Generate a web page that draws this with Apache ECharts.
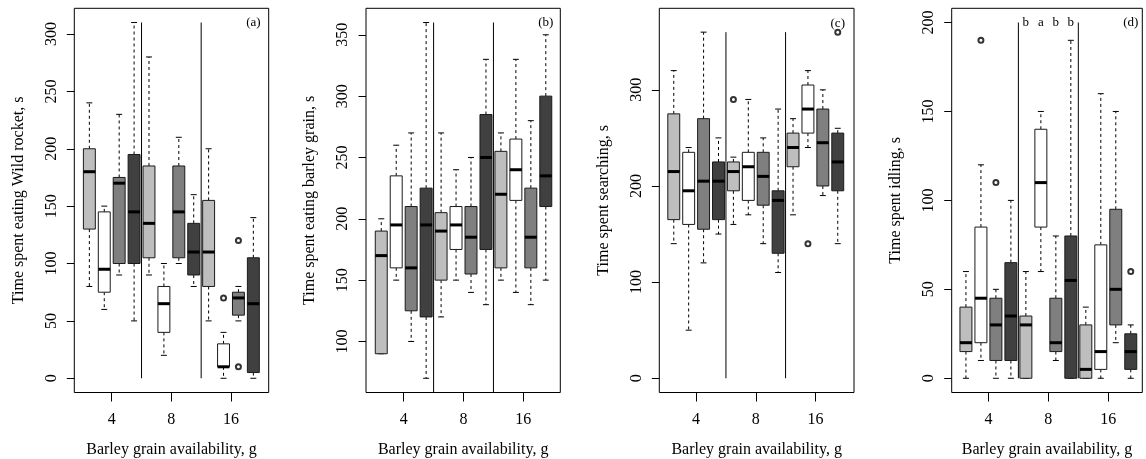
<!DOCTYPE html>
<html><head><meta charset="utf-8">
<script src="https://cdn.jsdelivr.net/npm/echarts@6/dist/echarts.min.js"></script>
<style>html,body{margin:0;padding:0;background:#fff}#c{width:1146px;height:459px}</style>
</head><body><div id="c"></div>
<script>
// ---------- data ----------
const groupLabels = ['4', '8', '16'];
const groupTickPos = [2.5, 6.5, 10.5];
const separators = [4.5, 8.5];
// box statistics per box (12 boxes, 4 per group): [min, q1, median, q3, max]
const rocketStats = [
  [80,130,180,200,240],[60,75,95,145,150],[90,100,170,175,230],[50,100,145,195,310],
  [90,105,135,185,280],[20,40,65,80,100],[100,105,145,185,210],[80,90,110,135,160],
  [50,80,110,155,200],[0,10,10,30,40],[50,55,70,75,80],[0,5,65,105,140]
];
const rocketOutliers = [[10,70],[11,120],[11,10]];
const rocketTicks = [0,50,100,150,200,250,300];

const barleyStats = [
  [90,90,170,190,200],[150,160,195,235,260],[100,125,160,210,270],[70,120,195,225,360],
  [120,150,190,205,270],[150,175,195,210,240],[140,155,185,210,250],[130,175,250,285,330],
  [150,160,220,255,270],[140,215,240,265,330],[130,160,185,225,280],[150,210,235,300,350]
];
const barleyOutliers = [];
const barleyTicks = [100,150,200,250,300,350];

const searchStats = [
  [140,165,215,275,320],[50,160,195,235,240],[120,155,205,270,360],[150,165,205,225,250],
  [160,195,215,225,230],[170,185,220,235,290],[140,180,210,235,250],[110,130,185,195,280],
  [170,220,240,255,270],[240,255,280,305,320],[190,200,245,280,300],[140,195,225,255,260]
];
const searchOutliers = [[5,290],[10,140],[12,360]];
const searchTicks = [0,100,200,300];

const idleStats = [
  [0,15,20,40,60],[10,20,45,85,120],[0,10,30,45,50],[0,10,35,65,100],
  [0,0,30,35,60],[60,85,110,140,150],[10,15,20,45,80],[0,0,55,80,190],
  [0,0,5,30,40],[0,5,15,75,160],[20,30,50,95,150],[0,5,15,25,30]
];
const idleOutliers = [[2,190],[3,110],[12,60]];
const idleTicks = [0,50,100,150,200];
const idleLetters = ['b','a','b','b'];   // boxes 5-8
const idleLetterBoxes = [5,6,7,8];

const yTitles = ['Time spent eating Wild rocket, s','Time spent eating barley grain, s','Time spent searching, s','Time spent idling, s'];
const panelTags = ['(a)','(b)','(c)','(d)'];
const xTitle = 'Barley grain availability, g';

// ---------- layout / style ----------
const boxFills = ['#bebebe','#ffffff','#7f7f7f','#404040'];
const FONT = "'Liberation Serif','DejaVu Serif',serif";
const panels = [
  {stats: rocketStats, out: rocketOutliers, ticks: rocketTicks, left: 74.3, width: 194.4, xMin: -0.01, xMax: 13.03, yMin: -12.4, yMax: 322.4, sepLo: 0, sepHi: 310, tagY: 310},
  {stats: barleyStats, out: barleyOutliers, ticks: barleyTicks, left: 366, width: 194.3, xMin: -0.02, xMax: 12.97, yMin: 58.4, yMax: 371.6, sepLo: 0, sepHi: 360, tagY: 360},
  {stats: searchStats, out: searchOutliers, ticks: searchTicks, left: 659.3, width: 194.7, xMin: 0.03, xMax: 13.09, yMin: -14.8, yMax: 384.8, sepLo: 0, sepHi: 360, tagY: 369},
  {stats: idleStats, out: idleOutliers, ticks: idleTicks, left: 951.7, width: 190.6, xMin: 0.05, xMax: 12.77, yMin: -8, yMax: 208, sepLo: 0, sepHi: 200, tagY: 200}
];
const TOP = 8.3, HEIGHT = 384.2;

function renderBox(params, api) {
  const x = api.value(0);
  const mn = api.value(1), q1 = api.value(2), md = api.value(3), q3 = api.value(4), mx = api.value(5);
  const cx = api.coord([x, md])[0];
  const xl = api.coord([x - 0.4, md])[0], xr = api.coord([x + 0.4, md])[0];
  const sl = api.coord([x - 0.2, md])[0], sr = api.coord([x + 0.2, md])[0];
  const yMn = api.coord([x, mn])[1], yQ1 = api.coord([x, q1])[1], yMd = api.coord([x, md])[1];
  const yQ3 = api.coord([x, q3])[1], yMx = api.coord([x, mx])[1];
  const ch = [];
  const dash = {stroke: '#000', lineWidth: 1, lineDash: [3, 3]};
  if (mx > q3) ch.push({type: 'line', shape: {x1: cx, y1: yQ3, x2: cx, y2: yMx}, style: dash});
  if (mn < q1) ch.push({type: 'line', shape: {x1: cx, y1: yQ1, x2: cx, y2: yMn}, style: dash});
  ch.push({type: 'line', shape: {x1: sl, y1: yMx, x2: sr, y2: yMx}, style: {stroke: '#000', lineWidth: 1}});
  ch.push({type: 'line', shape: {x1: sl, y1: yMn, x2: sr, y2: yMn}, style: {stroke: '#000', lineWidth: 1}});
  ch.push({type: 'rect', shape: {x: xl, y: yQ3, width: xr - xl, height: yQ1 - yQ3},
           style: {fill: boxFills[(x - 1) % 4], stroke: '#1a1a1a', lineWidth: 1}});
  ch.push({type: 'line', shape: {x1: xl, y1: yMd, x2: xr, y2: yMd}, style: {stroke: '#000', lineWidth: 3}});
  return {type: 'group', children: ch};
}

function renderSep(params, api) {
  const p1 = api.coord([api.value(0), api.value(1)]);
  const p2 = api.coord([api.value(0), api.value(2)]);
  return {type: 'line', shape: {x1: p1[0], y1: p1[1], x2: p2[0], y2: p2[1]}, style: {stroke: '#000', lineWidth: 1}};
}

function renderText(params, api) {
  const p = api.coord([api.value(0), api.value(1)]);
  return {type: 'text', x: p[0], y: p[1],
          style: {text: String(api.value(2)), font: "13px " + FONT, fill: '#000', align: 'center', verticalAlign: 'middle'}};
}

const grid = [], xAxis = [], yAxis = [], series = [];
panels.forEach((p, i) => {
  grid.push({left: p.left, top: TOP, width: p.width, height: HEIGHT, show: true,
             outerBoundsMode: 'none', containLabel: false,
             borderColor: '#000', borderWidth: 1, backgroundColor: 'transparent'});
  xAxis.push({gridIndex: i, type: 'value', min: p.xMin, max: p.xMax,
    axisLine: {show: false, onZero: false}, splitLine: {show: false},
    axisTick: {show: true, length: 9, lineStyle: {color: '#000'}, customValues: groupTickPos},
    axisLabel: {customValues: groupTickPos, margin: 19, color: '#000', fontFamily: FONT, fontSize: 16,
                formatter: v => groupLabels[groupTickPos.indexOf(v)]},
    name: xTitle, nameLocation: 'middle', nameGap: 49,
    nameTextStyle: {color: '#000', fontFamily: FONT, fontSize: 16}});
  yAxis.push({gridIndex: i, type: 'value', min: p.yMin, max: p.yMax,
    axisLine: {show: false, onZero: false}, splitLine: {show: false},
    axisTick: {show: true, length: 7.5, lineStyle: {color: '#000'}, customValues: p.ticks},
    axisLabel: {customValues: p.ticks, rotate: 90, margin: 15, color: '#000', fontFamily: FONT, fontSize: 16},
    name: yTitles[i], nameLocation: 'middle', nameGap: 48,
    nameTextStyle: {color: '#000', fontFamily: FONT, fontSize: 16}});
  series.push({type: 'custom', xAxisIndex: i, yAxisIndex: i, clip: true, renderItem: renderSep,
    data: separators.map(s => [s, p.sepLo, p.sepHi]), z: 1, silent: true});
  series.push({type: 'custom', xAxisIndex: i, yAxisIndex: i, renderItem: renderBox,
    data: p.stats.map((s, k) => [k + 1].concat(s)), z: 2, silent: true});
  series.push({type: 'scatter', xAxisIndex: i, yAxisIndex: i, symbol: 'emptyCircle', symbolSize: 5,
    itemStyle: {color: '#000', borderWidth: 0.8}, data: p.out, z: 3, silent: true});
  const texts = [[12, p.tagY, panelTags[i]]];
  if (i === 3) idleLetters.forEach((l, k) => texts.push([idleLetterBoxes[k], 200, l]));
  series.push({type: 'custom', xAxisIndex: i, yAxisIndex: i, renderItem: renderText, data: texts, z: 4, silent: true});
});

const chart = echarts.init(document.getElementById('c'), null, {renderer: 'canvas'});
chart.setOption({animation: false, backgroundColor: '#fff', grid, xAxis, yAxis, series});
</script>
</body></html>
